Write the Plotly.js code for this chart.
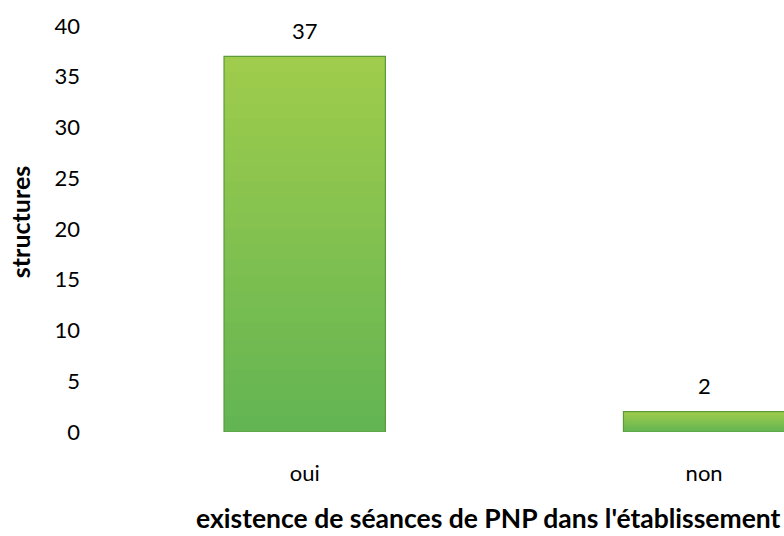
<!DOCTYPE html>
<html><head><meta charset="utf-8">
<script src="https://cdn.plot.ly/plotly-3.0.1.min.js"></script>
<style>body{margin:0;background:#fff}#c{width:784px;height:536px}</style>
</head><body><div id="c"></div>
<script>
const categories = ["oui", "non"];
const values = [37, 2];
const yTicks = [0, 5, 10, 15, 20, 25, 30, 35, 40];
const xTitle = "existence de séances de PNP dans l'établissement";
const yTitle = "structures";

const font = "Lato, 'Open Sans', sans-serif";
const BW = 0.404;

// vertical gradient (bottom -> top): layers each running from a rising base to the bar top
const bottomRGB = [98, 181, 83], topRGB = [160, 204, 76];
const N = 24;
const traces = [];
for (let i = 0; i < N; i++) {
  const t = (i + 0.5) / N;
  const c = bottomRGB.map((b, k) => Math.round(b + (topRGB[k] - b) * t));
  traces.push({
    type: "bar", x: categories,
    y: values.map(v => v * (N - i) / N),
    base: values.map(v => v * i / N),
    width: BW,
    marker: {color: `rgb(${c.join(",")})`, line: {width: 0}},
    hoverinfo: "none"
  });
}
traces.push({
  type: "bar", x: categories, y: values, width: BW,
  marker: {color: "rgba(0,0,0,0)", line: {color: "#5c9a3c", width: 1.2}},
  hoverinfo: "none"
});

const annotations = categories.map((c, i) => ({
  x: c, y: values[i], xref: "x", yref: "y",
  text: String(values[i]), showarrow: false,
  yanchor: "middle", yshift: 26,
  font: {family: font, size: 22, color: "#000"}
}));
annotations.push({
  xref: "paper", yref: "paper", x: 0.5655, y: -0.212, xanchor: "center", yanchor: "middle",
  text: "<b>" + xTitle + "</b>", showarrow: false,
  font: {family: font, size: 26.5, color: "#000"}
});
annotations.push({
  xref: "paper", yref: "paper", x: -0.125, y: 0.517, xanchor: "center", yanchor: "middle",
  text: "<b>" + yTitle + "</b>", showarrow: false, textangle: -90,
  font: {family: font, size: 25, color: "#000"}
});

const layout = {
  width: 784, height: 536,
  margin: {l: 105, r: 0, t: 26, b: 104},
  paper_bgcolor: "#fff", plot_bgcolor: "#fff",
  showlegend: false, barmode: "overlay",
  xaxis: {
    type: "category", range: [-0.5, 1.2], showgrid: false, zeroline: false, showline: false,
    ticks: "", ticklabelstandoff: 26,
    tickfont: {family: font, size: 22, color: "#000"}
  },
  yaxis: {
    range: [0, 40], tickvals: yTicks, showgrid: false, zeroline: false, showline: false,
    ticks: "", ticklabelstandoff: 24,
    tickfont: {family: font, size: 22, color: "#000"}
  },
  annotations: annotations
};

Plotly.newPlot("c", traces, layout, {displayModeBar: false, staticPlot: true});
</script></body></html>
